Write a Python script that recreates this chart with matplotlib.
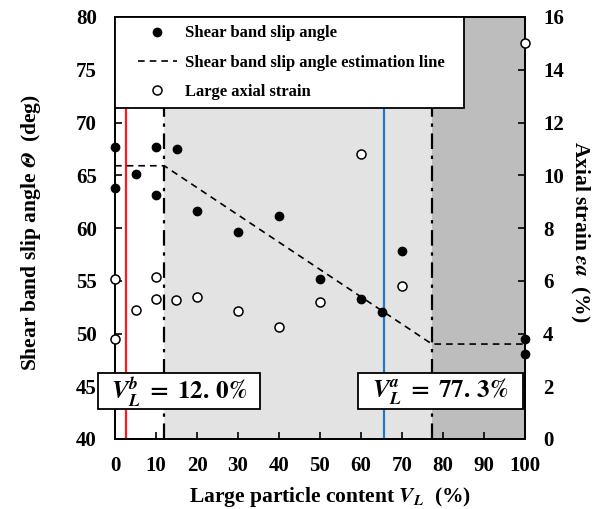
import matplotlib
matplotlib.use("Agg")
import matplotlib.pyplot as plt
from matplotlib.lines import Line2D
from matplotlib.patches import Rectangle
from matplotlib.legend_handler import HandlerLine2D

plt.rcParams['font.family'] = ['Liberation Serif', 'DejaVu Serif']
plt.rcParams['font.weight'] = 'bold'
plt.rcParams['axes.labelweight'] = 'bold'
plt.rcParams['mathtext.fontset'] = 'stix'

# Shear band slip angle (deg), left axis
slip_x = [0, 0, 5, 10, 10, 15, 20, 30, 40, 50, 60, 65, 70, 100, 100]
slip_y = [67.7, 63.8, 65.1, 67.7, 63.1, 67.5, 61.6, 59.6, 61.1, 55.2, 53.3, 52.0, 57.85, 49.45, 48.1]

# Large axial strain (%), right axis
strain_x = [0, 0, 5, 10, 10, 15, 20, 30, 40, 50, 60, 70, 100]
strain_y = [6.07, 3.78, 4.89, 6.15, 5.32, 5.27, 5.40, 4.87, 4.23, 5.18, 10.8, 5.81, 15.0]

# Estimation line
est_x = [0, 12.0, 77.3, 100]
est_y = [65.9, 65.9, 49.0, 49.0]

vb = 12.0
va = 77.3
red_x = 2.7
blue_x = 65.5

W, H = 598, 509
fig = plt.figure(figsize=(W/100, H/100), dpi=100)
ax = fig.add_axes([115/W, 1-439/H, 410/W, 422/H])
ax2 = ax.twinx()

ax.set_xlim(0, 100)
ax.set_ylim(40, 80)
ax2.set_ylim(0, 16)

ax.axvspan(vb, va, color='#e3e3e3', zorder=0, lw=0)
ax.axvspan(va, 100, color='#bdbdbd', zorder=0, lw=0)
ax.axvline(red_x, color='#ff1a1a', lw=1.6, zorder=1)
ax.axvline(blue_x, color='#1f78c8', lw=1.6, zorder=1)
ax.axvline(vb, color='black', lw=1.6, ls=(0, (7, 3, 1.5, 3)), zorder=1)
ax.axvline(va, color='black', lw=1.6, ls=(0, (7, 3, 1.5, 3)), zorder=1)

ax.plot(est_x, est_y, color='black', lw=1.2, ls=(0, (4, 3)), zorder=3)
ax.plot(slip_x, slip_y, 'o', color='black', ms=6, zorder=4, clip_on=False)
ax2.plot(strain_x, strain_y, 'o', mfc='white', mec='black', mew=1.1, ms=6.5, zorder=4, clip_on=False)

ax.set_xticks(range(0, 101, 10))
ax.set_yticks(range(40, 81, 5))
ax2.set_yticks(range(0, 17, 2))
for a in (ax, ax2):
    a.tick_params(direction='in', length=5, width=1.2, labelsize=15)
ax.tick_params(axis='x', pad=12)
ax.tick_params(axis='y', pad=13)
ax2.tick_params(axis='y', pad=13)
for a in (ax, ax2):
    for s in a.spines.values():
        s.set_linewidth(1.3)

ax.set_xlabel(r'Large particle content $\mathbfit{V}_{\mathbfit{L}}$  (%)', fontsize=15.5, va='center')
ax.set_ylabel(r'Shear band slip angle $\mathbfit{\Theta}$  (deg)', fontsize=15.5, va='center')
ax2.set_ylabel(r'Axial strain $\varepsilon a$  (%)', fontsize=15.5, rotation=270, va='center')
ax.xaxis.set_label_coords(0.524, -0.137)
ax.yaxis.set_label_coords(-0.205, 0.49)
ax2.yaxis.set_label_coords(1.134, 0.49)

ax2.set_zorder(ax.get_zorder() + 1)
ax2.patch.set_visible(False)

handles = [
    Line2D([], [], marker='o', color='black', ls='none', ms=6),
    Line2D([], [], color='black', lw=1.2, ls=(0, (4, 3))),
    Line2D([], [], marker='o', mfc='white', mec='black', mew=1.1, ls='none', ms=6.5),
]
labels = ['Shear band slip angle', 'Shear band slip angle estimation line', 'Large axial strain']
hmap = {h: HandlerLine2D(xpad=0.9) for h in handles}
leg = ax2.legend(handles, labels, loc='upper left', bbox_to_anchor=(0, 0, 349/410, 1),
                 mode='expand', borderaxespad=0, fancybox=False, framealpha=1,
                 edgecolor='black', prop={'size': 12, 'weight': 'bold'},
                 labelspacing=0.8, handlelength=3.2, handletextpad=0.5, borderpad=0.5,
                 handler_map=hmap)
leg.get_frame().set_linewidth(1.3)
leg.set_zorder(10)

# annotation boxes (pixel extents of the reference)
for (x0, x1), txt in [((98, 260), r'$\mathbfit{V}_{\mathbfit{L}}^{\mathbfit{b}}\;\mathbf{=}\;\mathbf{12.\,0\%}$'),
                      ((358, 523), r'$\mathbfit{V}_{\mathbfit{L}}^{\mathbfit{a}}\;\mathbf{=}\;\mathbf{77.\,3\%}$')]:
    y0, y1 = 373, 409
    fig.patches.append(Rectangle((x0/W, 1-y1/H), (x1-x0)/W, (y1-y0)/H, transform=fig.transFigure,
                                 fc='white', ec='black', lw=1.3, zorder=19))
    fig.text((x0+x1)/2/W, 1-392/H, txt, fontsize=18, ha='center', va='center', zorder=20)

fig.savefig('out.png', dpi=100)
